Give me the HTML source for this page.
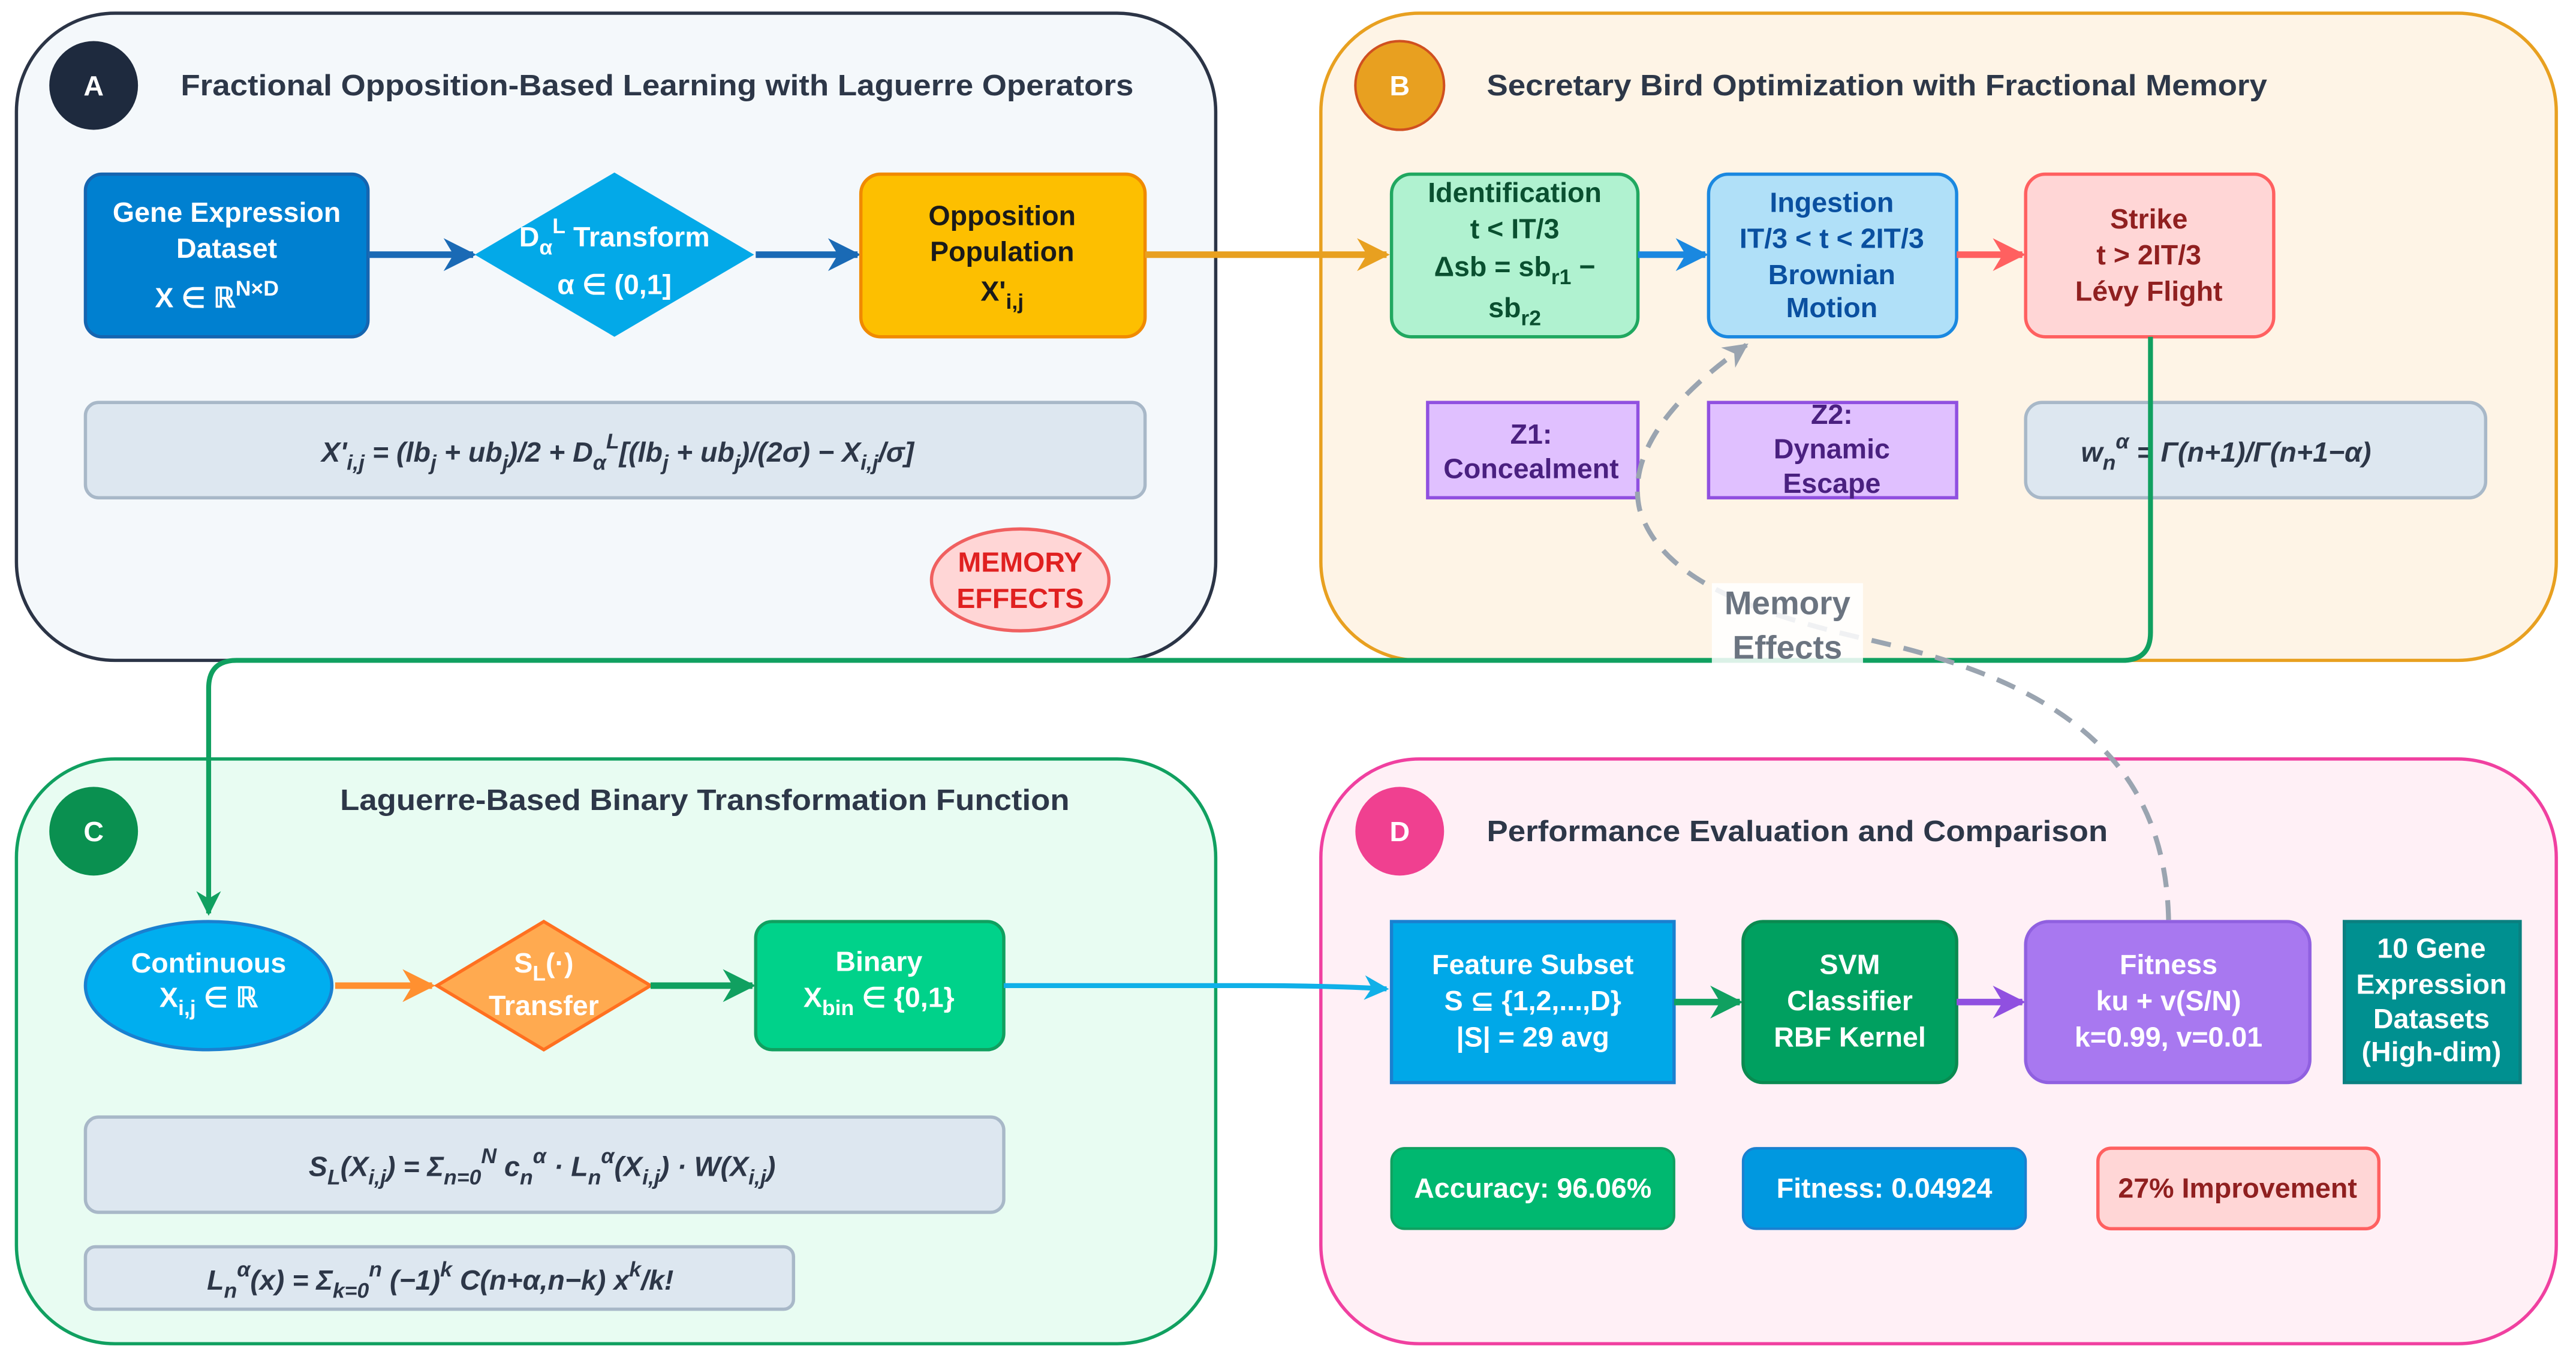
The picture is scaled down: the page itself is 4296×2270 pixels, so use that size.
<!DOCTYPE html>
<html><head><meta charset="utf-8"><style>
html,body{margin:0;padding:0;background:#fff;}
svg{display:block;}
text{font-family:"Liberation Sans",sans-serif;font-weight:bold;}
</style></head><body>
<svg width="4296" height="2270" viewBox="0 0 1568 828.5" xmlns="http://www.w3.org/2000/svg">
<defs>
<marker id="m" viewBox="0 0 10 10" refX="9" refY="5" markerWidth="5" markerHeight="5.5" orient="auto-start-reverse" markerUnits="strokeWidth"><path d="M0,0 L10,5 L0,10 L3,5 z" fill="context-stroke"/></marker>
</defs>
<!-- Panels -->
<rect x="10" y="8" width="730" height="394" rx="60" fill="#f4f8fb" stroke="#2b3446" stroke-width="2"/>
<rect x="804" y="8" width="752" height="394" rx="60" fill="#fef4e6" stroke="#e8a020" stroke-width="2"/>
<rect x="10" y="462" width="730" height="356" rx="60" fill="#e8fcf2" stroke="#10a060" stroke-width="2"/>
<rect x="804" y="462" width="752" height="356" rx="60" fill="#fff0f6" stroke="#f040a0" stroke-width="2"/>

<!-- Headers -->
<circle cx="57" cy="52" r="27" fill="#1e2a3e"/><text x="57" y="58" font-size="17" fill="#fff" text-anchor="middle">A</text>
<text x="110" y="58" font-size="18" fill="#2d3748" textLength="580" lengthAdjust="spacingAndGlyphs">Fractional Opposition-Based Learning with Laguerre Operators</text>
<circle cx="852" cy="52" r="27" fill="#e8a020" stroke="#d05020" stroke-width="1.5"/><text x="852" y="58" font-size="17" fill="#fff" text-anchor="middle">B</text>
<text x="905" y="58" font-size="18" fill="#2d3748" textLength="475" lengthAdjust="spacingAndGlyphs">Secretary Bird Optimization with Fractional Memory</text>
<circle cx="57" cy="506" r="27" fill="#0a9050"/><text x="57" y="512" font-size="17" fill="#fff" text-anchor="middle">C</text>
<text x="207" y="493" font-size="18" fill="#2d3748" textLength="444" lengthAdjust="spacingAndGlyphs">Laguerre-Based Binary Transformation Function</text>
<circle cx="852" cy="506" r="27" fill="#f04090"/><text x="852" y="512" font-size="17" fill="#fff" text-anchor="middle">D</text>
<text x="905" y="512" font-size="18" fill="#2d3748" textLength="378" lengthAdjust="spacingAndGlyphs">Performance Evaluation and Comparison</text>

<!-- Panel A -->
<rect x="52" y="106" width="172" height="99" rx="10" fill="#0080d0" stroke="#1565b0" stroke-width="2"/>
<text font-size="17" fill="#fff" text-anchor="middle"><tspan x="138" y="135">Gene Expression</tspan><tspan x="138" y="157">Dataset</tspan><tspan x="132" y="187">X ∈ ℝ<tspan font-size="13" dy="-7">N×D</tspan></tspan></text>
<line x1="224" y1="155" x2="288" y2="155" stroke="#1a6ab5" stroke-width="4" marker-end="url(#m)"/>
<polygon points="374,105 459,155 374,205 289,155" fill="#03a9e8"/>
<text font-size="17" fill="#fff" text-anchor="middle"><tspan x="374" y="150">D<tspan font-size="13" dy="5">α</tspan><tspan font-size="13" dy="-13">L</tspan><tspan dy="8"> Transform</tspan></tspan><tspan x="374" y="179">α ∈ (0,1]</tspan></text>
<line x1="460" y1="155" x2="522" y2="155" stroke="#1a6ab5" stroke-width="4" marker-end="url(#m)"/>
<rect x="524" y="106" width="173" height="99" rx="12" fill="#fdbf00" stroke="#f08a00" stroke-width="2"/>
<text font-size="17" fill="#1a1a1a" text-anchor="middle"><tspan x="610" y="137">Opposition</tspan><tspan x="610" y="159">Population</tspan><tspan x="610" y="183">X'<tspan font-size="13" dy="5">i,j</tspan></tspan></text>
<rect x="52" y="245" width="645" height="58" rx="8" fill="#dde7f0" stroke="#a8b8c8" stroke-width="2"/>
<text x="376" y="281" font-size="17" fill="#2d3748" text-anchor="middle" font-style="italic">X'<tspan font-size="13" dy="5">i,j</tspan><tspan dy="-5"> = (lb</tspan><tspan font-size="13" dy="5">j</tspan><tspan dy="-5"> + ub</tspan><tspan font-size="13" dy="5">j</tspan><tspan dy="-5">)/2 + D</tspan><tspan font-size="13" dy="5">α</tspan><tspan font-size="13" dy="-13">L</tspan><tspan dy="8">[(lb</tspan><tspan font-size="13" dy="5">j</tspan><tspan dy="-5"> + ub</tspan><tspan font-size="13" dy="5">j</tspan><tspan dy="-5">)/(2σ) − X</tspan><tspan font-size="13" dy="5">i,j</tspan><tspan dy="-5">/σ]</tspan></text>
<ellipse cx="621" cy="353" rx="54" ry="31" fill="#ffd6d6" stroke="#f06060" stroke-width="2"/>
<text font-size="17" fill="#e02020" text-anchor="middle"><tspan x="621" y="348">MEMORY</tspan><tspan x="621" y="370">EFFECTS</tspan></text>

<!-- Panel B -->
<line x1="697" y1="155" x2="844" y2="155" stroke="#e8a020" stroke-width="4" marker-end="url(#m)"/>
<rect x="847" y="106" width="150" height="99" rx="12" fill="#b0f2d0" stroke="#20a860" stroke-width="2"/>
<text font-size="17" fill="#0a5030" text-anchor="middle"><tspan x="922" y="123">Identification</tspan><tspan x="922" y="145">t &lt; IT/3</tspan><tspan x="922" y="168">Δsb = sb<tspan font-size="13" dy="5">r1</tspan><tspan dy="-5"> −</tspan></tspan><tspan x="922" y="193">sb<tspan font-size="13" dy="5">r2</tspan></tspan></text>
<line x1="997" y1="155" x2="1038" y2="155" stroke="#1a88e0" stroke-width="4" marker-end="url(#m)"/>
<rect x="1040" y="106" width="151" height="99" rx="12" fill="#b0e0f8" stroke="#1a88e0" stroke-width="2"/>
<text font-size="17" fill="#0a50a0" text-anchor="middle"><tspan x="1115" y="129">Ingestion</tspan><tspan x="1115" y="151">IT/3 &lt; t &lt; 2IT/3</tspan><tspan x="1115" y="173">Brownian</tspan><tspan x="1115" y="193">Motion</tspan></text>
<line x1="1191" y1="155" x2="1231" y2="155" stroke="#ff6060" stroke-width="4" marker-end="url(#m)"/>
<rect x="1233" y="106" width="151" height="99" rx="12" fill="#ffd6d6" stroke="#ff6060" stroke-width="2"/>
<text font-size="17" fill="#902020" text-anchor="middle"><tspan x="1308" y="139">Strike</tspan><tspan x="1308" y="161">t &gt; 2IT/3</tspan><tspan x="1308" y="183">Lévy Flight</tspan></text>
<rect x="869" y="245" width="128" height="58" fill="#e0c0ff" stroke="#9050e0" stroke-width="2"/>
<text font-size="17" fill="#4a2080" text-anchor="middle"><tspan x="932" y="270">Z1:</tspan><tspan x="932" y="291">Concealment</tspan></text>
<rect x="1040" y="245" width="151" height="58" fill="#e0c0ff" stroke="#9050e0" stroke-width="2"/>
<text font-size="17" fill="#4a2080" text-anchor="middle"><tspan x="1115" y="258">Z2:</tspan><tspan x="1115" y="279">Dynamic</tspan><tspan x="1115" y="300">Escape</tspan></text>
<rect x="1233" y="245" width="280" height="58" rx="10" fill="#dde7f0" stroke="#a8b8c8" stroke-width="2"/>
<text x="1355" y="281" font-size="17" fill="#2d3748" text-anchor="middle" font-style="italic">w<tspan font-size="13" dy="5">n</tspan><tspan font-size="13" dy="-13">α</tspan><tspan dy="8"> = Γ(n+1)/Γ(n+1−α)</tspan></text>

<!-- green connector B -> C -->
<path d="M1309,205 L1309,385 Q1309,402 1292,402 L144,402 Q127,402 127,419 L127,556" fill="none" stroke="#10a060" stroke-width="3" marker-end="url(#m)"/>

<!-- dashed memory effects -->
<path d="M1320,560 C1318,460 1250,415 1140,390 C1060,372 1010,350 998,310 C990,275 1020,240 1063,210" fill="none" stroke="#9aa4b0" stroke-width="3" stroke-dasharray="12,8" marker-end="url(#m)"/>
<rect x="1042" y="355" width="92" height="52" fill="#ffffff" opacity="0.85"/>
<text font-size="20" fill="#6b7480" text-anchor="middle"><tspan x="1088" y="374">Memory</tspan><tspan x="1088" y="401">Effects</tspan></text>

<!-- Panel C -->
<ellipse cx="127" cy="600" rx="75" ry="39" fill="#00aeef" stroke="#1a80d0" stroke-width="2"/>
<text font-size="17" fill="#fff" text-anchor="middle"><tspan x="127" y="592">Continuous</tspan><tspan x="127" y="613">X<tspan font-size="13" dy="5">i,j</tspan><tspan dy="-5"> ∈ ℝ</tspan></tspan></text>
<line x1="204" y1="600" x2="263" y2="600" stroke="#ff9030" stroke-width="4" marker-end="url(#m)"/>
<polygon points="331,561 396,600 331,639 266,600" fill="#ffaa50" stroke="#ff7020" stroke-width="2"/>
<text font-size="17" fill="#fff" text-anchor="middle"><tspan x="331" y="592">S<tspan font-size="13" dy="5">L</tspan><tspan dy="-5">(·)</tspan></tspan><tspan x="331" y="618">Transfer</tspan></text>
<line x1="396" y1="600" x2="458" y2="600" stroke="#10a060" stroke-width="4" marker-end="url(#m)"/>
<rect x="460" y="561" width="151" height="78" rx="10" fill="#00d28a" stroke="#10a060" stroke-width="2"/>
<text font-size="17" fill="#fff" text-anchor="middle"><tspan x="535" y="591">Binary</tspan><tspan x="535" y="613">X<tspan font-size="13" dy="5">bin</tspan><tspan dy="-5"> ∈ {0,1}</tspan></tspan></text>
<path d="M611,600 L760,600 Q810,600 844,602" fill="none" stroke="#10b0e8" stroke-width="3" marker-end="url(#m)"/>
<rect x="52" y="680" width="559" height="58" rx="8" fill="#dde7f0" stroke="#a8b8c8" stroke-width="2"/>
<text x="330" y="716" font-size="17" fill="#2d3748" text-anchor="middle" font-style="italic">S<tspan font-size="13" dy="5">L</tspan><tspan dy="-5">(X</tspan><tspan font-size="13" dy="5">i,j</tspan><tspan dy="-5">) = Σ</tspan><tspan font-size="13" dy="5">n=0</tspan><tspan font-size="13" dy="-13">N</tspan><tspan dy="8"> c</tspan><tspan font-size="13" dy="5">n</tspan><tspan font-size="13" dy="-13">α</tspan><tspan dy="8"> · L</tspan><tspan font-size="13" dy="5">n</tspan><tspan font-size="13" dy="-13">α</tspan><tspan dy="8">(X</tspan><tspan font-size="13" dy="5">i,j</tspan><tspan dy="-5">) · W(X</tspan><tspan font-size="13" dy="5">i,j</tspan><tspan dy="-5">)</tspan></text>
<rect x="52" y="759" width="431" height="38" rx="6" fill="#dde7f0" stroke="#a8b8c8" stroke-width="2"/>
<text x="268" y="785" font-size="17" fill="#2d3748" text-anchor="middle" font-style="italic">L<tspan font-size="13" dy="5">n</tspan><tspan font-size="13" dy="-13">α</tspan><tspan dy="8">(x) = Σ</tspan><tspan font-size="13" dy="5">k=0</tspan><tspan font-size="13" dy="-13">n</tspan><tspan dy="8"> (−1)</tspan><tspan font-size="13" dy="-8">k</tspan><tspan dy="8"> C(n+α,n−k) x</tspan><tspan font-size="13" dy="-8">k</tspan><tspan dy="8">/k!</tspan></text>

<!-- Panel D -->
<rect x="847" y="561" width="172" height="98" fill="#00a8e8" stroke="#1a80d0" stroke-width="2"/>
<text font-size="17" fill="#fff" text-anchor="middle"><tspan x="933" y="593">Feature Subset</tspan><tspan x="933" y="615">S ⊆ {1,2,...,D}</tspan><tspan x="933" y="637">|S| = 29 avg</tspan></text>
<line x1="1019" y1="610" x2="1059" y2="610" stroke="#10a060" stroke-width="4" marker-end="url(#m)"/>
<rect x="1061" y="561" width="130" height="98" rx="12" fill="#00a060" stroke="#0a8a50" stroke-width="2"/>
<text font-size="17" fill="#fff" text-anchor="middle"><tspan x="1126" y="593">SVM</tspan><tspan x="1126" y="615">Classifier</tspan><tspan x="1126" y="637">RBF Kernel</tspan></text>
<line x1="1191" y1="610" x2="1231" y2="610" stroke="#9050e0" stroke-width="4" marker-end="url(#m)"/>
<rect x="1233" y="561" width="173" height="98" rx="14" fill="#a878f0" stroke="#9060e0" stroke-width="2"/>
<text font-size="17" fill="#fff" text-anchor="middle"><tspan x="1320" y="593">Fitness</tspan><tspan x="1320" y="615">ku + v(S/N)</tspan><tspan x="1320" y="637">k=0.99, v=0.01</tspan></text>
<rect x="1427" y="561" width="107" height="98" fill="#009090" stroke="#0a8080" stroke-width="2"/>
<text font-size="17" fill="#fff" text-anchor="middle"><tspan x="1480" y="583">10 Gene</tspan><tspan x="1480" y="605">Expression</tspan><tspan x="1480" y="626">Datasets</tspan><tspan x="1480" y="646">(High-dim)</tspan></text>
<rect x="847" y="699" width="172" height="49" rx="8" fill="#00b870" stroke="#10a060" stroke-width="1.5"/>
<text x="933" y="729" font-size="17" fill="#fff" text-anchor="middle">Accuracy: 96.06%</text>
<rect x="1061" y="699" width="172" height="49" rx="8" fill="#0098e0" stroke="#1a80d0" stroke-width="1.5"/>
<text x="1147" y="729" font-size="17" fill="#fff" text-anchor="middle">Fitness: 0.04924</text>
<rect x="1277" y="699" width="171" height="49" rx="8" fill="#ffd6d6" stroke="#ff6060" stroke-width="2"/>
<text x="1362" y="729" font-size="17" fill="#902020" text-anchor="middle">27% Improvement</text>
</svg>
</body></html>
